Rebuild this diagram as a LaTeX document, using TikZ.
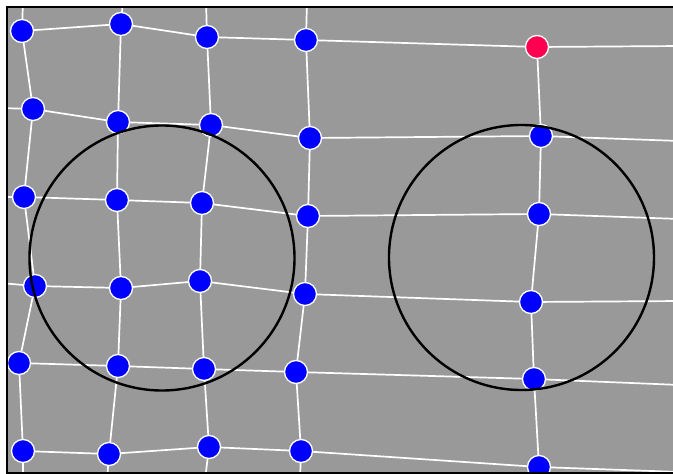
\documentclass[tikz,border=0pt]{standalone}
\definecolor{bggray}{RGB}{153,153,153}
\definecolor{nodeblue}{RGB}{0,0,255}
\definecolor{nodered}{RGB}{255,0,80}
\pgfdeclarelayer{bg}
\pgfsetlayers{bg,main}
\tikzset{
  vtx/.style={circle, fill=nodeblue, draw=white, line width=1.3pt, minimum size=23pt, inner sep=0pt},
  redvtx/.style={vtx, fill=nodered},
  link/.style={draw=white, line width=1.7pt},
  ring/.style={draw=black, line width=2.4pt},
}
\begin{document}
\begin{tikzpicture}[x=1pt,y=-1pt]
\useasboundingbox (0,0) rectangle (673,474);
\clip (0,0) rectangle (673,474);
% nodes
\node[vtx] (a1) at (22,31) {};
\node[vtx] (a2) at (33,109) {};
\node[vtx] (a3) at (24,197) {};
\node[vtx] (a4) at (35,286) {};
\node[vtx] (a5) at (19,363) {};
\node[vtx] (a6) at (23,451) {};
\node[vtx] (b1) at (121,24) {};
\node[vtx] (b2) at (118,122) {};
\node[vtx] (b3) at (117,200) {};
\node[vtx] (b4) at (121,288) {};
\node[vtx] (b5) at (118,366) {};
\node[vtx] (b6) at (109,454) {};
\node[vtx] (c1) at (207,37) {};
\node[vtx] (c2) at (211,125) {};
\node[vtx] (c3) at (202,203) {};
\node[vtx] (c4) at (200,281) {};
\node[vtx] (c5) at (204,369) {};
\node[vtx] (c6) at (209,447) {};
\node[vtx] (d1) at (306,40) {};
\node[vtx] (d2) at (310,138) {};
\node[vtx] (d3) at (308,216) {};
\node[vtx] (d4) at (305,294) {};
\node[vtx] (d5) at (296,372) {};
\node[vtx] (d6) at (301,451) {};
\node[redvtx] (e1) at (537,47) {};
\node[vtx] (e2) at (541,136) {};
\node[vtx] (e3) at (539,214) {};
\node[vtx] (e4) at (531,302) {};
\node[vtx] (e5) at (534,379) {};
\node[vtx] (e6) at (539,467) {};
% free ends
\coordinate (ta) at (23,0);
\coordinate (tb) at (123,0);
\coordinate (tc) at (206,0);
\coordinate (td) at (307,0);
\coordinate (ba) at (23,480);
\coordinate (bb) at (107,480);
\coordinate (bc) at (205,480);
\coordinate (bd) at (300,480);
\coordinate (be) at (540,480);
\coordinate (l2) at (0,108);
\coordinate (l3) at (0,197);
\coordinate (l4) at (0,283);
\coordinate (r1) at (680,46);
\coordinate (r2) at (680,141);
\coordinate (r3) at (680,219);
\coordinate (r4) at (680,301);
\coordinate (r5) at (680,385);
\coordinate (r6) at (680,472);
\begin{pgfonlayer}{bg}
\fill[bggray] (7,7) rectangle (680,473);
\foreach \r in {1,...,6}{
  \draw[link] (a\r) -- (b\r) -- (c\r) -- (d\r) -- (e\r);
}
\foreach \c in {a,b,c,d,e}{
  \draw[link] (\c1) -- (\c2) -- (\c3) -- (\c4) -- (\c5) -- (\c6);
}
\draw[link] (ta) -- (a1);
\draw[link] (tb) -- (b1);
\draw[link] (tc) -- (c1);
\draw[link] (td) -- (d1);
\draw[link] (a6) -- (ba);
\draw[link] (b6) -- (bb);
\draw[link] (c6) -- (bc);
\draw[link] (d6) -- (bd);
\draw[link] (e6) -- (be);
\draw[link] (l2) -- (a2);
\draw[link] (l3) -- (a3);
\draw[link] (l4) -- (a4);
\foreach \r in {1,...,6}{
  \draw[link] (e\r) -- (r\r);
}
\end{pgfonlayer}
% rings
\node[ring, circle, minimum size=265pt, inner sep=0pt] (ringL) at (162,258) {};
\node[ring, circle, minimum size=265pt, inner sep=0pt] (ringR) at (521.5,257.5) {};
% frame
\fill[white] (0,0) rectangle (673,5.7);
\fill[white] (0,0) rectangle (5.7,474);
\draw[black, line width=2.6pt] (7,480) -- (7,7) -- (680,7);
\draw[black, line width=2.6pt] (7,473) -- (680,473);
\end{tikzpicture}
\end{document}
